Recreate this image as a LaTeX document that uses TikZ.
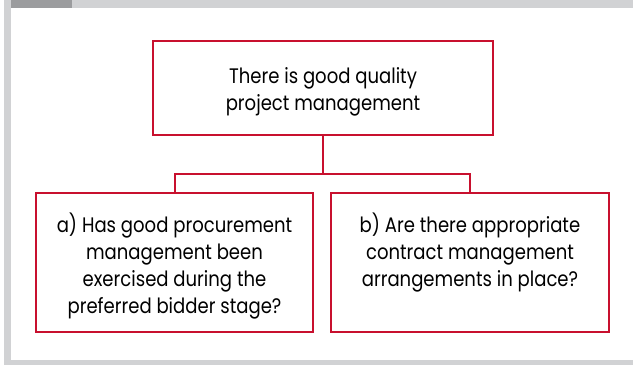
\documentclass[tikz,border=0pt]{standalone}
\usepackage{fontspec}
\setmainfont{Poppins}[FakeStretch=0.86]
\definecolor{frameL}{HTML}{D1D2D4}
\definecolor{frameD}{HTML}{9B9C9E}
\definecolor{boxred}{HTML}{C8102E}
\begin{document}
\begin{tikzpicture}[x=1pt,y=-1pt,
  box/.style={draw=boxred, line width=2pt, inner sep=0pt, fill=white},
  conn/.style={draw=boxred, line width=2pt},
  txt/.style={align=center, inner sep=0pt, anchor=north, text=black,
    font=\fontsize{21}{27}\selectfont}]
\useasboundingbox (0,0) rectangle (633,365);
% frame
\fill[frameL] (4,0) rectangle (11,365);
\fill[frameL] (11,0) rectangle (633,8);
\fill[frameD] (11,0) rectangle (72,8);
\fill[frameL] (11,360) rectangle (633,365);
% boxes
\node[box, minimum width=340pt, minimum height=94pt] (top) at (323,88) {};
\node[box, minimum width=277pt, minimum height=139pt] (left) at (174.5,262.5) {};
\node[box, minimum width=278pt, minimum height=139pt] (right) at (470,262.5) {};
% connectors
\coordinate (j) at (323,174);
\draw[conn] (top.south) -- (j);
\draw[conn] (left.north) |- (j) -| (right.north);
% texts
\node[txt] (ttop) at (323,67) {There is good quality\\project management};
\node[txt] (tleft) at (174.5,213) {a) Has good procurement\\management been\\exercised during the\\preferred bidder stage?};
\node[txt] (tright) at (470,213) {b) Are there appropriate\\contract management\\arrangements in place?};
\end{tikzpicture}
\end{document}
